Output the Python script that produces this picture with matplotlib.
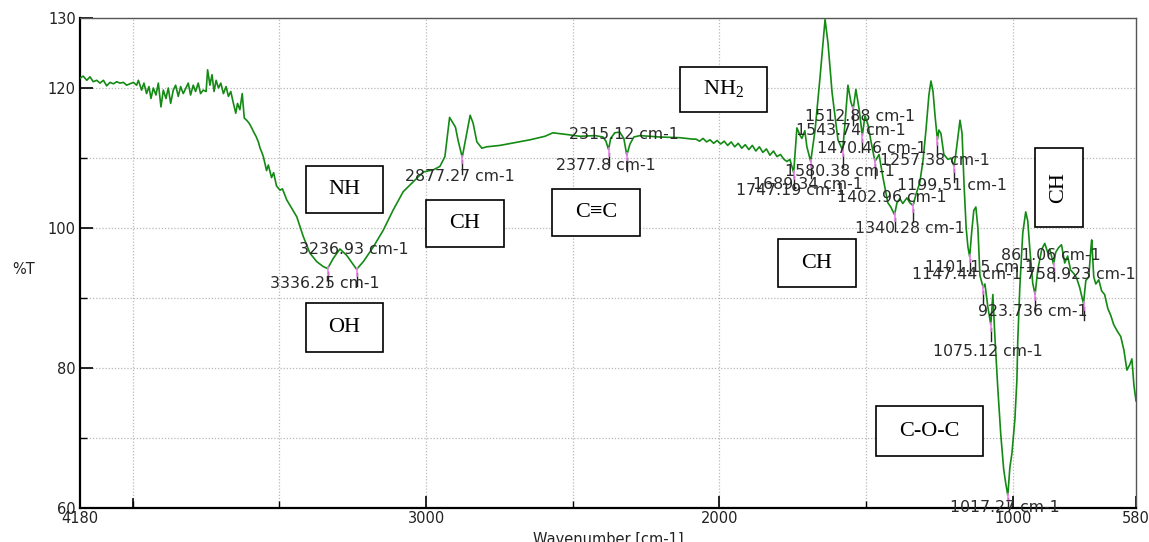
import numpy as np
import matplotlib
matplotlib.use("Agg")
import matplotlib.pyplot as plt
from matplotlib.patches import Rectangle
from matplotlib.ticker import FixedLocator

# ---------------- data ----------------
wavenumber = [
    4180, 4169, 4157, 4146, 4135, 4123, 4112, 4100, 4089, 4078, 4066, 4055, 4044, 4032,
    4021, 4010, 3998, 3987, 3981, 3970, 3962, 3953, 3945, 3938, 3930, 3921, 3913, 3904,
    3896, 3887, 3879, 3871, 3862, 3854, 3845, 3837, 3828, 3819, 3811, 3803, 3794, 3786,
    3777, 3769, 3760, 3750, 3745, 3737, 3730, 3723, 3716, 3708, 3700, 3691, 3682, 3674,
    3666, 3657, 3649, 3643, 3635, 3627, 3620, 3612, 3604, 3597, 3589, 3580, 3572, 3566,
    3561, 3555, 3544, 3538, 3527, 3520, 3510, 3498, 3490, 3475, 3441, 3419, 3396, 3373,
    3351, 3336, 3316, 3294, 3271, 3237, 3214, 3180, 3146, 3112, 3078, 3044, 3010, 2976,
    2953, 2936, 2920,
    2900, 2891, 2877, 2864, 2850, 2840, 2827, 2810, 2793, 2748, 2697, 2646, 2595, 2568,
    2510, 2476, 2424, 2397, 2387, 2378, 2371, 2357, 2340, 2326, 2316, 2305, 2292, 2271,
    2203, 2135, 2092,
    2080, 2068, 2056, 2044, 2032, 2020, 2008, 1996, 1984, 1972, 1960, 1948, 1936, 1924,
    1912, 1900, 1888, 1876, 1864, 1852, 1840, 1828, 1816, 1804, 1792, 1780, 1770, 1760,
    1747, 1736, 1725, 1719, 1709, 1702, 1689, 1674, 1657, 1640, 1630, 1616, 1596, 1580,
    1572, 1562, 1552, 1544, 1535, 1524, 1513, 1504, 1494, 1484, 1470, 1456, 1443, 1426,
    1416, 1403, 1395, 1385, 1375, 1361, 1351, 1340, 1330, 1317, 1306, 1296, 1286, 1279,
    1272, 1265, 1257, 1252, 1245, 1235, 1221, 1211, 1200, 1190, 1180, 1173, 1166, 1159,
    1153, 1147, 1140, 1133, 1126, 1119, 1112, 1101, 1095, 1085, 1075, 1068, 1061, 1051,
    1041, 1031, 1024, 1017, 1010, 1003, 993, 986, 983, 976, 966, 956, 949, 942, 932, 924,
    915, 901, 891, 881, 874, 861, 854, 844, 834, 823, 813, 803, 792, 782, 772, 759, 751,
    741, 734, 731, 724, 717, 707, 697, 687, 676, 666, 656, 643, 632, 621, 611, 601, 594,
    587, 580,
]
transmittance = [
    121.4, 121.7, 121.1, 121.6, 120.9, 121.1, 120.7, 121.1, 120.3, 120.8, 120.6, 120.9, 120.7, 120.8,
    120.4, 120.6, 120.8, 120.4, 121.1, 119.7, 120.7, 119.2, 120.2, 118.5, 120.0, 119.0, 120.7, 117.3,
    119.7, 118.5, 120.0, 117.8, 119.7, 120.4, 118.8, 120.2, 119.2, 120.0, 120.7, 119.0, 120.4, 119.5,
    120.7, 119.2, 119.7, 119.5, 122.6, 120.4, 121.9, 119.5, 121.1, 120.0, 120.7, 119.2, 120.2, 118.8,
    119.5, 117.8, 116.4, 117.8, 116.9, 119.2, 115.7, 115.4, 115.0, 114.5, 113.8, 113.1, 112.3, 111.4,
    110.9, 110.2, 108.2, 109.0, 107.2, 107.9, 106.0, 105.4, 105.6, 104.0, 101.6, 98.8, 96.4, 95.2,
    94.5, 94.2, 95.7, 97.0, 96.1, 94.1, 95.2, 97.3, 99.7, 102.6, 105.2, 106.6, 108.0, 108.3,
    108.8, 110.2, 115.8,
    114.4, 112.5, 110.1, 113.0, 116.1, 115.0, 112.3, 111.4, 111.6, 111.8, 112.2, 112.6, 113.1, 113.6,
    113.3, 113.1, 113.2, 113.0, 112.4, 111.2, 112.8, 113.6, 113.7, 112.8, 110.4, 112.0, 113.0, 113.2,
    113.0, 112.9, 112.7,
    112.7, 112.4, 112.8, 112.3, 112.6, 112.1, 112.5, 112.0, 112.4, 111.8, 112.3, 111.6, 112.1, 111.4,
    111.9, 111.2, 111.8, 111.0, 111.6, 110.8, 111.3, 110.4, 111.0, 110.2, 110.5, 109.8, 109.5, 109.8,
    107.9, 114.3, 113.2, 112.8, 113.9, 111.6, 109.5, 114.0, 121.6, 129.8, 126.4, 119.3, 112.6, 111.1,
    115.0, 120.4, 118.0, 117.0, 119.8, 117.0, 113.2, 116.0, 114.8, 112.5, 109.5, 110.5, 107.3, 103.6,
    103.0, 101.9, 103.6, 104.2, 103.5, 104.3, 103.6, 103.2, 104.8, 106.5, 109.7, 114.0, 119.0, 121.0,
    119.5, 116.0, 112.6, 114.0, 113.5, 110.5, 109.8, 110.0, 108.8, 112.0, 115.4, 113.5, 106.0, 100.0,
    97.3, 95.9, 99.5, 102.5, 103.0, 100.0, 93.2, 91.5, 92.0, 88.7, 86.2, 90.5, 84.4, 77.0,
    70.5, 65.5, 63.5, 61.8, 65.8, 67.8, 72.6, 78.3, 84.0, 91.6, 99.3, 102.3, 101.0, 97.0, 92.1, 90.5,
    94.0, 97.0, 97.8, 96.5, 97.0, 94.8, 96.5, 97.2, 97.6, 95.0, 96.0, 94.0, 93.5, 92.8, 91.5, 89.2, 92.5,
    93.0, 97.0, 98.3, 93.0, 92.0, 92.6, 91.0, 90.5, 88.5, 87.5, 86.2, 85.2, 84.5, 82.5, 79.7, 80.5, 81.3,
    77.5, 75.3,
]

peak_positions = [3336.25, 3236.93, 2877.27, 2377.8, 2315.12, 1747.19, 1689.34, 1580.38,
                  1543.74, 1512.88, 1470.46, 1402.96, 1340.28, 1257.38, 1199.51, 1147.44,
                  1101.15, 1075.12, 1017.27, 923.736, 861.06, 758.923]

group_labels = ["NH", "OH", "CH", "C\u2261C", r"NH$_\mathrm{2}$", "CH", "CH", "C-O-C"]

x_tick_values = [4180, 3000, 2000, 1000, 580]
y_tick_values = [60, 80, 100, 120, 130]

# ---------------- layout ----------------
W, H = 1149, 542
plt.rcParams["mathtext.fontset"] = "custom"
plt.rcParams["mathtext.rm"] = "Liberation Serif"
fig = plt.figure(figsize=(W / 100, H / 100), dpi=100)
ax = fig.add_axes([80 / W, 1 - 508 / H, 1056 / W, 490 / H])
ax.set_xlim(4180, 580)
ax.set_ylim(60, 130)

# grid
for gx in [4000, 3500, 3000, 2500, 2000, 1500, 1000]:
    ax.axvline(gx, color="#b8b8b8", lw=0.9, ls=(0, (1, 1.5)), zorder=0)
for gy in [70, 80, 90, 100, 110, 120]:
    ax.axhline(gy, color="#b8b8b8", lw=0.9, ls=(0, (1, 1.5)), zorder=0)

ax.plot(wavenumber, transmittance, color="#138a13", lw=1.2, zorder=3)

# peak labels (y in data units of label centre)
label_y = [92.1, 97.0, 107.4, 109.0, 113.3, 105.3, 106.2, 108.1,
           113.9, 115.9, 111.3, 104.3, 99.9, 109.6, 106.0, 93.3,
           94.4, 82.3, 60.1, 88.0, 96.1, 93.3]
xs = np.array(wavenumber)[::-1]
ys = np.array(transmittance)[::-1]
for pk, ly in zip(peak_positions, label_y):
    yc = float(np.interp(pk, xs, ys))
    ax.plot([pk, pk], [yc - 0.5, yc - 2.4], color="#222222", lw=1.0, zorder=4)
    ax.plot([pk, pk], [yc + 0.2, yc - 0.9], color="#ee82ee", lw=1.2, zorder=5)
    ax.text(pk + 9, ly, f"{pk:g} cm-1", ha="center", va="center", fontsize=11.3,
            family="DejaVu Sans", color="#2a2a2a", zorder=6, clip_on=False)

# boxed group labels (pixel boxes)
boxes = [(306, 166, 383, 213), (306, 303, 383, 352), (426, 200, 504, 247),
         (552, 189, 640, 236), (680, 67, 767, 112), (778, 239, 856, 287),
         (1035, 148, 1083, 227), (876, 406, 983, 456)]
for (x0, y0, x1, y1), lab in zip(boxes, group_labels):
    fig.patches.append(Rectangle((x0 / W, 1 - y1 / H), (x1 - x0) / W, (y1 - y0) / H,
                                 transform=fig.transFigure, fill=True, facecolor="white",
                                 edgecolor="black", lw=1.2, zorder=7))
    rot = 90 if (x1 - x0) < (y1 - y0) else 0
    fig.text((x0 + x1) / 2 / W, 1 - (y0 + y1) / 2 / H, lab, ha="center", va="center",
             rotation=rot, fontsize=16, family=["Liberation Serif", "DejaVu Serif"],
             color="black", zorder=8)

# axes styling
for s in ["left", "bottom"]:
    ax.spines[s].set_color("black")
    ax.spines[s].set_linewidth(1.6)
for s in ["top", "right"]:
    ax.spines[s].set_color("#555555")
    ax.spines[s].set_linewidth(1.0)

ax.set_xticks(x_tick_values)
ax.set_xticklabels([str(v) for v in x_tick_values])
ax.xaxis.set_minor_locator(FixedLocator([4000, 3500, 2500, 1500]))
ax.set_yticks(y_tick_values)
ax.set_yticklabels([str(v) for v in y_tick_values])
ax.yaxis.set_minor_locator(FixedLocator([70, 90, 110]))
ax.tick_params(axis="both", which="major", direction="in", length=9, width=1.2,
               labelsize=10.5, colors="black", pad=3)
ax.tick_params(axis="both", which="minor", direction="in", length=5, width=1.0)
ax.tick_params(axis="x", which="major", pad=2)
for t in ax.get_xticklabels() + ax.get_yticklabels():
    t.set_color("#222222")
# long tick at 4000 on x
ax.plot([4000, 4000], [60, 61.3], color="black", lw=1.2, clip_on=False)

ax.set_xlabel("Wavenumber [cm-1]", fontsize=10.5, color="#222222", labelpad=4)
fig.text(24 / W, 1 - 270 / H, "%T", ha="center", va="center", fontsize=10.5,
         color="#222222")

fig.savefig("out.png", dpi=100)
